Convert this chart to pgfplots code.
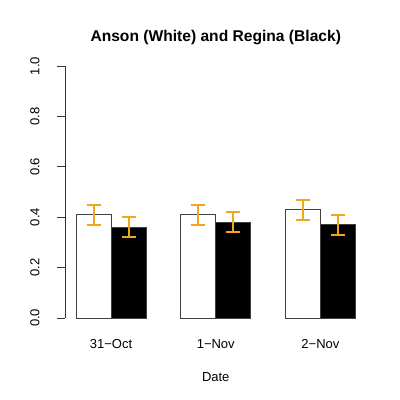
\documentclass[border=0pt]{standalone}
\usepackage{pgfplots}
\pgfplotsset{compat=1.18}
\usepackage{pgfplotstable}
\usepackage{fontspec}
\setmainfont{Liberation Sans}
\definecolor{errorange}{HTML}{F5A41C}

% x y err  (white = Anson, black = Regina)
\pgfplotstableread{
x   y    e
1.5 0.41 0.04
4.5 0.41 0.04
7.5 0.43 0.04
}\anson
\pgfplotstableread{
x   y    e
2.5 0.36 0.04
5.5 0.38 0.04
8.5 0.37 0.04
}\regina

\begin{document}
\begin{tikzpicture}[x=1pt,y=1pt]
  \path[use as bounding box] (0,0) rectangle (400,400);
  \begin{axis}[at={(65pt,72pt)}, anchor=south west,
               scale only axis, width=301.5pt, height=272pt,
               xmin=0.68, xmax=9.32, ymin=-0.04, ymax=1.04,
               clip=false,
               axis lines*=left,
               x axis line style={draw=none},
               y axis line style={draw=none},
               xtick={2,5,8},
               xticklabels={31−Oct,1−Nov,2−Nov},
               x tick style={draw=none},
               xticklabel style={anchor=center, yshift=-8.5pt},
               ytick={0,0.2,0.4,0.6,0.8,1.0},
               yticklabels={0.0,0.2,0.4,0.6,0.8,1.0},
               y tick style={black!80, line width=0.75pt},
               tick align=outside,
               major tick length=8pt,
               yticklabel style={anchor=center, xshift=-22pt, rotate=90},
               ticklabel style={font=\fontsize{13}{15}\selectfont},
               title={Anson (White) and Regina (Black)},
               title style={at={(0.5,1)}, anchor=center, yshift=13pt,
                            font=\fontsize{15.6}{18}\selectfont\bfseries},
               xlabel={Date},
               xlabel style={at={(0.5,0)}, anchor=center, yshift=-48.7pt,
                             font=\fontsize{13}{15}\selectfont},
               ybar, bar width=1, bar shift=0pt]
    \addplot[fill=white, draw=black!75, line width=0.75pt,
             error bars/.cd, y dir=both, y explicit,
             error bar style={errorange, line width=2pt},
             error mark options={errorange, line width=2pt, mark size=7pt, rotate=90}]
      table[x=x, y=y, y error=e] {\anson};
    \addplot[fill=black, draw=black!75, line width=0.75pt,
             error bars/.cd, y dir=both, y explicit,
             error bar style={errorange, line width=2pt},
             error mark options={errorange, line width=2pt, mark size=7pt, rotate=90}]
      table[x=x, y=y, y error=e] {\regina};
    \draw[black!80, line width=0.75pt] (axis cs:0.68,0) -- (axis cs:0.68,1);
  \end{axis}
\end{tikzpicture}
\end{document}
